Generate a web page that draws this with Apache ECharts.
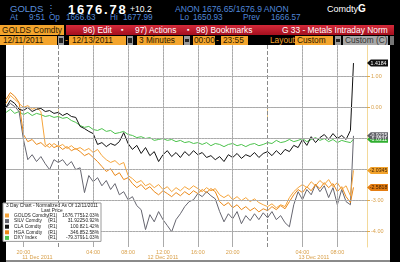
<!DOCTYPE html>
<html><head><meta charset="utf-8">
<script src="https://cdn.jsdelivr.net/npm/echarts@6/dist/echarts.min.js"></script>
<style>
html,body{margin:0;padding:0;background:#000;width:400px;height:262px;overflow:hidden;font-family:'Liberation Sans',Arial,sans-serif;}
.t{position:absolute;white-space:pre;line-height:1;}
.b{position:absolute;}
.ob{position:absolute;background:#f4a52d;color:#2a1800;font-size:8.3px;line-height:9px;height:9px;white-space:pre;}
.ic{position:absolute;background:#9a9a9a;height:9px;width:6px;}
.ic i{position:absolute;left:1px;top:2px;width:4px;height:5px;background:#222;}
.bl{color:#4f86d8;font-size:8.2px;}
</style></head><body>
<div class="t" style="left:10px;top:4px;color:#5b8fdc;font-size:9.5px;">GOLDS ⋮</div>
<div class="t" style="left:68px;top:3px;color:#fff;font-weight:bold;font-size:13px;letter-spacing:1.8px;">1676.78</div>
<div class="t" style="left:130px;top:5px;color:#fff;font-size:8.6px;">+10.2</div>
<div class="t bl" style="left:175px;top:5px;font-size:8.6px;">ANON 1676.65/1676.9 ANON</div>
<div class="t" style="left:327px;top:4px;color:#fff;font-size:9px;">Comdty<b style="font-size:10px">G</b></div>
<div class="t bl" style="left:10px;top:14px;">At</div>
<div class="t bl" style="left:29px;top:14px;">9:51</div>
<div class="t bl" style="left:49px;top:14px;">Op</div>
<div class="t bl" style="left:66px;top:14px;">1666.63</div>
<div class="t bl" style="left:110px;top:14px;">Hi</div>
<div class="t bl" style="left:123px;top:14px;">1677.99</div>
<div class="t bl" style="left:180px;top:14px;">Lo</div>
<div class="t bl" style="left:193px;top:14px;">1650.93</div>
<div class="t bl" style="left:243px;top:14px;">Prev</div>
<div class="t bl" style="left:271px;top:14px;">1666.57</div>
<div class="ob" style="left:0;top:25px;width:64px;height:10px;line-height:10px;padding-left:2px;box-sizing:border-box;">GOLDS Comdty</div>
<div class="b" style="left:66px;top:25px;width:328px;height:10px;background:linear-gradient(#d42a3a,#a50f1e);"></div>
<div class="t" style="left:83px;top:26px;color:#fff;font-size:8.4px;">96) Edit</div>
<div class="t" style="left:121px;top:26px;color:#fff;font-size:7px;">▪</div>
<div class="t" style="left:135px;top:26px;color:#fff;font-size:8.4px;">97) Actions</div>
<div class="t" style="left:187px;top:26px;color:#fff;font-size:7px;">▪</div>
<div class="t" style="left:196px;top:26px;color:#fff;font-size:8.4px;">98) Bookmarks</div>
<div class="t" style="left:282px;top:26px;color:#fff;font-size:8.4px;">G 33 - Metals Intraday Norm</div>
<div class="ob" style="left:0;top:36px;width:57px;padding-left:3px;box-sizing:border-box;">12/11/2011</div>
<div class="ic" style="left:58px;top:36px;"><i></i></div>
<div class="t" style="left:65px;top:36px;color:#f4a52d;font-size:8.3px;">-</div>
<div class="ob" style="left:69px;top:36px;width:57px;padding-left:3px;box-sizing:border-box;">12/13/2011</div>
<div class="ic" style="left:127px;top:36px;"><i></i></div>
<div class="ob" style="left:137px;top:36px;width:46px;padding-left:2px;box-sizing:border-box;">3 Minutes</div>
<div class="ic" style="left:184px;top:36px;"><i style="height:3px;top:3px"></i></div>
<div class="ob" style="left:193px;top:36px;width:22px;padding-left:1px;box-sizing:border-box;">00:00</div>
<div class="t" style="left:216px;top:36px;color:#f4a52d;font-size:8.3px;">-</div>
<div class="ob" style="left:221px;top:36px;width:27px;padding-left:2px;box-sizing:border-box;">23:55</div>
<div class="t" style="left:270px;top:36px;color:#f4a52d;font-size:8.3px;">Layout</div>
<div class="ob" style="left:295px;top:36px;width:38px;padding-left:2px;box-sizing:border-box;">Custom</div>
<div class="ic" style="left:335px;top:36px;"><i style="height:3px;top:3px"></i></div>
<div class="ob" style="left:343px;top:36px;width:45px;padding-left:2px;box-sizing:border-box;background:#a8a8a8;color:#333;">Custom (C)</div>
<div class="b" style="left:390px;top:36px;width:4px;height:9px;background:#777;"></div>
<div class="b" style="left:6px;top:45px;width:384px;height:215px;background:#fff;"></div>
<div class="b" style="left:6px;top:260px;width:384px;height:2px;background:#8a8a8a;"></div>
<div id="chart" class="b" style="left:0;top:45px;width:400px;height:217px;"></div>
<script>
const hours = [18,18.5,19,19.5,20,20.5,21,21.5,22,22.5,23,23.5,24,24.5,25,25.5,26,26.5,27,27.5,28,28.5,29,29.5,30,30.5,31,31.5,32,32.5,33,33.5,34,34.5,35,35.5,36,36.5,37,37.5,38,38.5,39,39.5,40,40.5,41,41.5,42,42.5,43,43.5,44,44.5,45,45.5,46,46.5,47,47.5,48,48.5,49,49.5,50,50.5,51,51.5,52,52.5,53,53.5,54,54.5,55,55.5,56,56.5,57,57.5,57.85];
const golds = [0.12,0.38,0.25,0.12,-0.01,0.05,-0.07,-0.01,-0.14,-1.20,
 -1.30,-1.17,-1.27,-1.20,-1.33,-1.24,-1.36,-1.30,-1.40,-1.33,
 -1.46,-1.36,-1.56,-1.69,-1.78,-1.72,-1.85,-1.78,-2.20,-2.30,
 -2.43,-2.36,-2.53,-2.46,-2.59,-2.49,-2.65,-2.56,-2.72,-2.59,
 -2.69,-2.56,-2.65,-2.53,-2.62,-2.72,-2.59,-2.69,-2.62,-2.82,
 -2.91,-2.82,-2.98,-2.88,-3.01,-2.91,-3.04,-2.95,-3.07,-3.14,
 -3.20,-3.11,-3.24,-3.14,-3.20,-2.91,-2.72,-2.59,-2.49,-2.59,
 -2.40,-2.53,-2.36,-2.49,-2.33,-2.56,-2.43,-2.65,-2.53,-2.85,
 -2.0345];
const silv = [-0.01,0.12,0.02,-0.14,-1.04,-1.69,-1.53,-1.75,-1.59,-1.82,
 -2.01,-1.69,-1.78,-1.69,-1.88,-1.75,-2.01,-1.95,-2.75,-2.20,
 -2.40,-2.27,-2.53,-2.36,-2.65,-2.46,-2.82,-2.72,-2.98,-2.88,
 -3.17,-3.30,-3.94,-3.46,-3.69,-3.36,-3.62,-3.81,-4.01,-3.62,
 -3.43,-3.20,-3.04,-2.98,-2.78,-2.88,-2.72,-2.85,-2.95,-3.36,
 -3.69,-3.43,-3.59,-3.36,-3.75,-3.49,-3.65,-3.43,-3.62,-3.40,
 -3.56,-3.36,-3.62,-3.49,-3.72,-3.85,-3.14,-2.72,-2.98,-2.65,
 -2.82,-2.49,-2.72,-2.53,-2.91,-2.59,-3.14,-2.65,-3.04,-3.14,
 -0.9235];
const cla = [-0.01,0.22,0.12,-0.07,-0.11,-0.01,-0.14,-0.07,-0.04,-0.14,
 -0.11,-0.20,-0.17,-0.27,-0.20,-0.30,-0.33,-0.62,-0.69,-0.78,
 -0.85,-1.20,-1.14,-1.27,-1.17,-1.23,-1.11,-0.82,-1.17,-1.36,
 -1.23,-1.49,-1.30,-1.56,-1.43,-1.75,-1.53,-1.40,-1.59,-1.46,
 -1.62,-1.43,-1.56,-1.40,-1.53,-1.46,-1.62,-1.56,-1.69,-1.59,
 -1.75,-1.53,-1.62,-1.49,-1.65,-1.53,-1.59,-1.46,-1.62,-1.49,
 -1.43,-1.56,-1.40,-1.53,-1.36,-1.43,-1.23,-1.30,-1.04,-1.23,
 -0.95,-1.14,-0.98,-0.88,-1.04,-0.85,-1.01,-0.91,-1.04,-0.75,
 1.4184];
const hga = [0.25,0.47,0.35,0.15,-0.88,-1.11,-1.04,-1.20,-1.14,-1.27,
 -1.17,-1.30,-1.24,-1.36,-1.27,-1.40,-1.33,-1.43,-1.56,-1.49,
 -1.62,-1.75,-1.91,-2.07,-1.98,-2.20,-2.11,-2.33,-2.27,-2.46,
 -2.59,-2.49,-2.65,-2.56,-2.72,-2.82,-2.69,-2.78,-2.88,-2.75,
 -2.85,-2.72,-2.82,-2.69,-2.78,-2.65,-2.75,-2.62,-2.72,-3.04,
 -3.17,-3.07,-3.24,-3.14,-3.30,-3.20,-3.33,-3.24,-3.37,-3.27,
 -3.33,-3.20,-3.30,-3.17,-3.27,-3.04,-2.82,-2.65,-2.75,-2.56,
 -2.69,-2.49,-2.62,-2.43,-2.59,-2.46,-2.72,-2.56,-2.88,-3.07,
 -2.5818];
const dxy = [-0.17,-0.07,-0.20,-0.14,-0.24,-0.17,-0.27,-0.20,-0.24,-0.30,
 -0.27,-0.33,-0.30,-0.36,-0.33,-0.43,-0.49,-0.59,-0.65,-0.62,
 -0.72,-0.75,-0.69,-0.78,-0.75,-0.85,-0.82,-0.78,-0.88,-0.91,
 -0.98,-0.95,-1.01,-0.98,-1.07,-1.04,-1.01,-1.07,-1.04,-1.11,
 -1.07,-1.14,-1.11,-1.17,-1.14,-1.20,-1.14,-1.24,-1.17,-1.20,
 -1.27,-1.20,-1.17,-1.24,-1.20,-1.27,-1.20,-1.17,-1.24,-1.20,
 -1.14,-1.17,-1.07,-1.14,-1.11,-1.04,-1.11,-1.07,-1.01,-1.11,
 -1.04,-0.98,-1.07,-1.01,-1.11,-1.04,-1.14,-1.07,-1.11,-1.14,
 -1.0311];
const names = ['GOLDS Comdty','SILV Comdty','CLA Comdty','HGA Comdty','DXY Index'];
const lastPrice = ['1676.7751','31.9225','100.82','346.85','-79.3791'];
const pctChange = ['-2.03%','-0.92%','1.42%','-2.58%','-1.03%'];
const timeTicks = [20,28,32,36,40,44,52,56];
const dayBreaks = [24,48];
const dateLabels = ['11 Dec 2011','12 Dec 2011','13 Dec 2011'];
const dateLabelAt = [21.6,36,53.3];
const yLabels = [1,0,-3,-4];
const yGrid = [1,0,-1,-2,-3,-4];
const X_MIN = 18, X_MAX = 59.4, Y_MIN = -4.5, Y_MAX = 2;

const seriesDefs = {
  'GOLDS Comdty': {data: golds, color:'#f5a43a', tag:'#f2a22b', tagText:'#3a1d00'},
  'SILV Comdty': {data: silv, color:'#65656f', tag:'#5f5f66', tagText:'#fff'},
  'CLA Comdty': {data: cla, color:'#111111', tag:'#111111', tagText:'#fff'},
  'HGA Comdty': {data: hga, color:'#ea8818', tag:'#e47d12', tagText:'#3a1d00'},
  'DXY Index': {data: dxy, color:'#4cc24c', tag:'#2fae2f', tagText:'#fff'}
};
const drawOrder = ['DXY Index','SILV Comdty','HGA Comdty','GOLDS Comdty','CLA Comdty'];
const pad = n => (n < 10 ? '0' : '') + n;

const series = [
  {type:'line', name:'days', data:[], z:1, silent:true,
   markLine:{symbol:'none', silent:true, animation:false, label:{show:false},
    lineStyle:{type:'dashed', color:'#8a8a8a', width:1},
    data: dayBreaks.map(v => ({xAxis:v}))}},
  {type:'line', name:'vgrid', data:[], z:1, silent:true,
   markLine:{symbol:'none', silent:true, animation:false, label:{show:false},
    lineStyle:{type:[3,0.01], color:'#aaaaaa', width:1},
    data: timeTicks.map(v => ({xAxis:v}))}},
  {type:'line', name:'hgrid', data:[], z:1, silent:true,
   markLine:{symbol:'none', silent:true, animation:false, label:{show:false},
    lineStyle:{type:[3,0.01], color:'#aaaaaa', width:1},
    data: yGrid.map(v => ({yAxis:v}))}}
];
drawOrder.forEach(n => {
  const d = seriesDefs[n];
  const vals = d.data;
  const last = vals[vals.length - 1];
  series.push({
    type:'line', name:n, data: hours.map((h,i) => [h, vals[i]]),
    showSymbol:false, symbol:'none', color:d.color,
    lineStyle:{width:1, color:d.color}, animation:false, z:3,
    markPoint:{silent:true, animation:false,
      symbol:'path://M0,4L4,0L22,0L22,8L4,8Z', symbolSize:[21,7], symbolOffset:[10.5,0],
      itemStyle:{color:d.tag},
      label:{show:true, position:'inside', formatter: () => last.toFixed(4), color:d.tagText, fontSize:5.2, offset:[1,0]},
      data:[{coord:[X_MAX, last]}]}
  });
});

const chart = echarts.init(document.getElementById('chart'), null, {renderer:'canvas'});
chart.setOption({
  animation:false,
  textStyle:{fontFamily:'Liberation Sans'},
  grid:{left:6, top:0, width:361, bottom:15, show:false},
  xAxis:[{
    type:'value', min:X_MIN, max:X_MAX,
    axisLine:{show:true, lineStyle:{color:'#d0d0d0'}},
    splitLine:{show:false},
    axisTick:{show:true, customValues:dayBreaks, length:12, lineStyle:{color:'#f0cf8c'}},
    axisLabel:{customValues:timeTicks, formatter: v => pad(v % 24) + ':00', color:'#d9a04a', fontSize:5.5, margin:2}
  },{
    type:'value', min:X_MIN, max:X_MAX, position:'bottom',
    axisLine:{show:false}, axisTick:{show:false}, splitLine:{show:false},
    axisLabel:{customValues:dateLabelAt, formatter: v => dateLabels[dateLabelAt.indexOf(v)], color:'#d9a04a', fontSize:5.5, margin:7.5}
  }],
  yAxis:{
    type:'value', min:Y_MIN, max:Y_MAX, position:'right',
    axisLine:{show:true, lineStyle:{color:'#f3d99a'}},
    splitLine:{show:false},
    axisTick:{show:true, customValues:yLabels, length:3, lineStyle:{color:'#e0a84a'}},
    axisLabel:{customValues:yLabels, formatter: v => v.toFixed(2), color:'#d9a04a', fontSize:5.5, margin:4}
  },
  legend:{
    data:names, orient:'vertical', left:3, top:158, icon:'rect', itemWidth:4, itemHeight:4, itemGap:0.6,
    backgroundColor:'#fff', borderColor:'#9a9a9a', borderWidth:1, padding:[10,2,1,2],
    selectedMode:false, z:20,
    textStyle:{fontSize:4.8, color:'#222', fontFamily:'Liberation Sans',
      rich:{n:{width:34,fontSize:4.8}, r:{width:12,fontSize:4.8}, v:{width:25,align:'right',fontSize:4.8}, p:{width:14,align:'right',fontSize:4.8}}},
    formatter: name => { const i = names.indexOf(name); return '{n|' + name + '}{r|(R1)}{v|' + lastPrice[i] + '}{p|' + pctChange[i] + '}'; }
  },
  graphic:[
    {type:'text', x:52, y:161, z:100, style:{text:'3 Day Chart - Normalized As Of 12/11/2011', fontSize:4.8, fill:'#222', align:'center', verticalAlign:'middle', fontFamily:'Liberation Sans'}},
    {type:'text', x:52, y:165.3, z:100, style:{text:'Last Price', fontSize:4.8, fill:'#222', align:'center', verticalAlign:'middle', fontFamily:'Liberation Sans'}}
  ],
  series: series
});
</script>
</body></html>
